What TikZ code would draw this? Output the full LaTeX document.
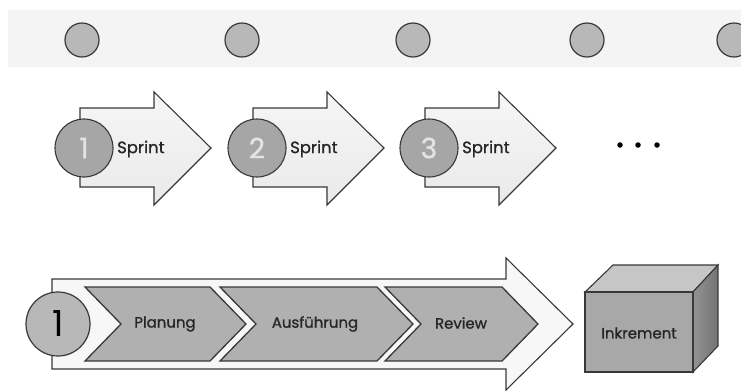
\documentclass[tikz,border=0pt]{standalone}
\usepackage{fontspec}
\setmainfont{Poppins}
\newfontfamily\labfont{Poppins}[FakeBold=1.2]
\definecolor{band}{gray}{0.955}
\definecolor{edge}{gray}{0.22}
\definecolor{dotfill}{gray}{0.72}
\definecolor{ballfill}{gray}{0.65}
\definecolor{chevfill}{gray}{0.69}
\tikzset{
  topdot/.style={circle, minimum size=34bp, inner sep=0pt, fill=dotfill, draw=edge, line width=1.2bp},
  ball/.style={circle, minimum size=58bp, inner sep=0pt, fill=ballfill, draw=edge, line width=1.1bp,
               text=gray!22, font=\labfont\fontsize{28}{30}\selectfont},
  bigball/.style={circle, minimum size=64bp, inner sep=0pt, fill=dotfill, draw=edge, line width=1.2bp,
               text=black, font=\fontsize{36}{38}\selectfont},
  sprintarrow/.style={draw=edge, line width=1.1bp, top color=gray!7, bottom color=gray!17, line join=miter},
  bigarrow/.style={draw=edge, line width=1.1bp, fill=gray!6, line join=miter},
  chev/.style={draw=edge, line width=1.3bp, fill=chevfill, line join=miter},
  lbl/.style={font=\labfont\fontsize{16.5}{18}\selectfont, text=black!85, inner sep=0pt},
  slbl/.style={font=\labfont\fontsize{15}{17}\selectfont, text=black!85, inner sep=0pt},
  blackdot/.style={circle, fill=black, minimum size=5.5bp, inner sep=0pt}
}
\begin{document}
\begin{tikzpicture}[x=1bp,y=-1bp]
\useasboundingbox (0,0) rectangle (741,390);
\clip (0,0) rectangle (741,390);
\fill[white] (0,0) rectangle (741,390);
% top band
\fill[band] (8,10) rectangle (741,67);
\foreach \x/\n in {82/1,242/2,413/3,587/4,734/5}
  \node[topdot] (t\n) at (\x,40) {};
% sprint arrows
\foreach \i/\xl in {1/80,2/253,3/425}{
  \draw[sprintarrow] (\xl,108) -- (\xl+74,108) -- (\xl+74,92) -- (\xl+131,148)
       -- (\xl+74,205) -- (\xl+74,187) -- (\xl,187) -- cycle;
  \node[ball] (c\i) at (\xl+4,148) {\i};
  \node[lbl, anchor=west] (s\i) at (\xl+37,149) {Sprint};
}
\node[blackdot] (d1) at (620,145) {};
\node[blackdot] (d2) at (638,145) {};
\node[blackdot] (d3) at (657,145) {};
% big arrow
\draw[bigarrow] (52,279) -- (506,279) -- (506,258) -- (573,324) -- (506,390)
     -- (506,369) -- (52,369) -- cycle;
% chevrons
\foreach \n/\l/\r in {p/85/210, a/220/377, r/385/502}{
  \draw[chev] (\l,287) -- (\r,287) -- (\r+36,324) -- (\r,361) -- (\l,361) -- (\l+36,324) -- cycle;
}
\node[slbl] (pl) at (165,324) {Planung};
\node[slbl] (au) at (315,324) {Ausführung};
\node[slbl] (re) at (461,323) {Review};
\node[bigball] (one) at (58,324) {1};
% cube
\fill[gray!45, draw=edge, line width=1.1bp, line join=miter] (585,292) -- (613,265) -- (718,265) -- (693,292) -- cycle;
\shade[left color=gray!85, right color=gray!110, draw=edge, line width=1.1bp, line join=miter] (693,292) -- (718,265) -- (718,346) -- (693,372) -- cycle;
\draw[edge, line width=1.1bp, fill=gray!68] (585,292) rectangle (693,372);
\node[slbl] (ink) at (639,333) {Inkrement};
\end{tikzpicture}
\end{document}
